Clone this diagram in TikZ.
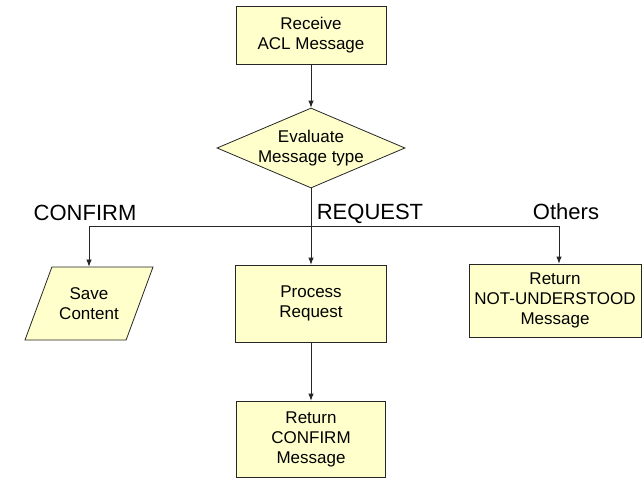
\documentclass[tikz,border=0pt]{standalone}
\usepackage{fontspec}
\setmainfont{Liberation Sans}
\usetikzlibrary{shapes.geometric,arrows.meta}
\definecolor{boxfill}{HTML}{FFFFCC}

\begin{document}
\begin{tikzpicture}[x=1pt,y=-1pt,
  box/.style={draw=black!85,fill=boxfill,line width=0.8pt,align=center,
    inner sep=0pt,font=\fontsize{17}{20}\selectfont},
  decision/.style={box,shape=diamond,aspect=2.35,inner sep=-2pt,
    minimum width=188pt,minimum height=80pt},
  io/.style={box,trapezium,trapezium left angle=50,trapezium right angle=130,
    trapezium stretches body,minimum width=128pt,minimum height=73pt},
  branch/.style={font=\fontsize{22}{25}\selectfont,anchor=base},
  arrow/.style={draw=black!85,line width=0.8pt,-{Latex[length=7pt,width=5.5pt]}}]
\clip (0,0) rectangle (642,479);
\fill[white] (0,0) rectangle (642,479);

% main flow
\node[box,minimum width=150pt,minimum height=58pt] (recv) at (311,35) {Receive\\ACL Message};
\node[decision] (eval) at (311,148) {Evaluate\\Message type};
\node[box,minimum width=151pt,minimum height=77pt] (proc) at (311,303.5) {Process\\Request};
\node[box,minimum width=149pt,minimum height=76pt] (reply) at (311,439) {Return\\CONFIRM\\Message};

% side branches
\node[io] (save) at (89,303.5) {Save\\Content};
\node[box,minimum width=172pt,minimum height=73pt] (notund) at (555,300.5) {Return\\NOT-UNDERSTOOD\\Message};

\coordinate (split) at (311,226);
\node[branch] (confirm) at (85,220) {CONFIRM};
\node[branch] (request) at (370,219) {REQUEST};
\node[branch] (others) at (566,219) {Others};

\draw[arrow] (recv) -- (eval);
\draw[arrow] (eval) -- (proc);
\draw[arrow] (split) -| (save);
\draw[arrow] (split) -| ([xshift=4pt]notund.north);
\draw[arrow] (proc) -- (reply);
\end{tikzpicture}
\end{document}
